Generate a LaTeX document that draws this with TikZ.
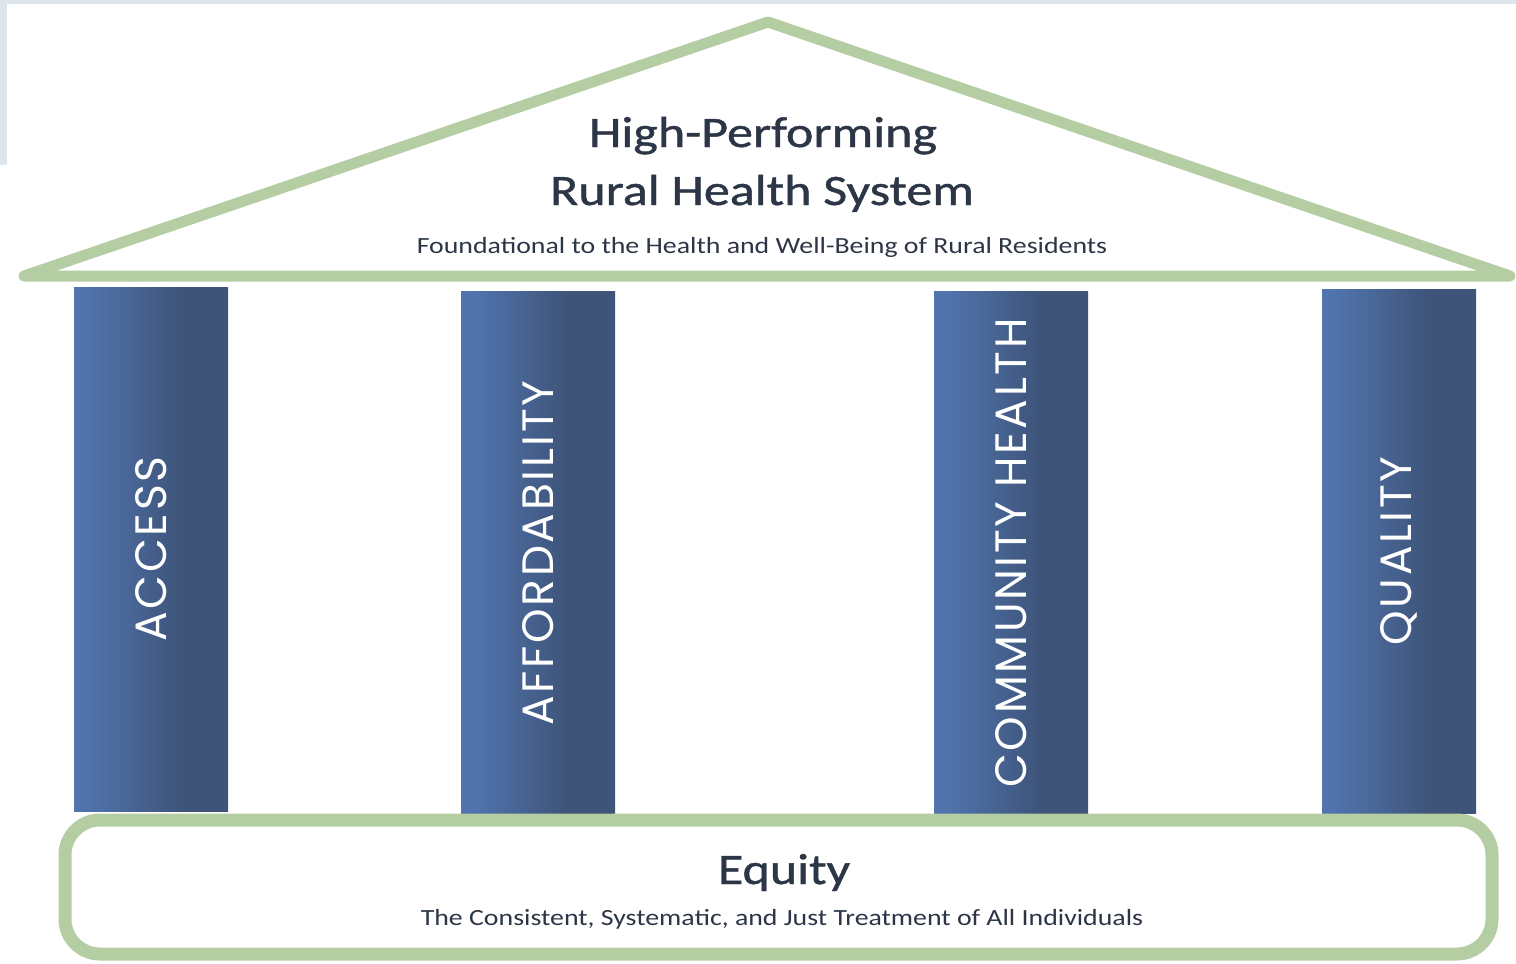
\documentclass[tikz,border=0pt]{standalone}
\usepackage{fontspec}
\setmainfont{Carlito}[FakeStretch=1.2]
\newfontfamily\headfont{Carlito}[FakeStretch=1.2, FakeBold=1]
\newfontfamily\pillarfont{Poppins}[LetterSpace=6]
\usepackage{xcolor}
\usepackage{tikz}
\usetikzlibrary{positioning,calc}

\definecolor{roofgreen}{HTML}{B5CDA3}
\definecolor{inktext}{HTML}{2C3646}
\definecolor{stripgrey}{HTML}{DEE5EA}
\definecolor{pillarlight}{HTML}{7AA0DA}
\definecolor{pillarmid}{HTML}{5073AC}
\definecolor{pillardark}{HTML}{3E5479}
\pgfdeclarehorizontalshading{pillarshade}{100bp}{color(0bp)=(pillarlight); color(8bp)=(pillarmid!85!pillarlight); color(30bp)=(pillarmid); color(60bp)=(pillardark); color(100bp)=(pillardark)}

\begin{document}
\begin{tikzpicture}[
    roof/.style={draw=roofgreen, line width=0.11cm, line join=round},
    pillar/.style={rectangle, shading=pillarshade, inner sep=0pt, minimum width=1.54cm, minimum height=5.24cm, text=white, font=\pillarfont\fontsize{12.5}{14}\selectfont},
    heading/.style={anchor=base, text=inktext, inner sep=0pt, font=\headfont\fontsize{12.35}{14}\selectfont},
    caption/.style={anchor=base, text=inktext, inner sep=0pt, font=\fontsize{6.6}{8}\selectfont}
]
\useasboundingbox (0,0) rectangle (15.16,9.63);

% Grey edge
\fill[stripgrey] (0,9.59) rectangle (15.16,9.63);
\fill[stripgrey] (0,7.98) rectangle (0.07,9.63);

% Roof
\draw[roof] (0.24,6.87) -- (7.68,9.41) -- (15.10,6.87) -- cycle;
\node[heading] (title) at (7.63,8.16) {High-Performing};
\node[heading] (system) at (7.62,7.58) {Rural Health System};
\node[caption] (found) at (7.62,7.10) {Foundational to the Health and Well-Being of Rural Residents};

% Pillars
\node[pillar] (access) at (1.51,4.14) {\rotatebox{90}{ACCESS}};
\node[pillar] (afford) at (5.38,4.10) {\rotatebox{90}{AFFORDABILITY}};
\node[pillar] (community) at (10.11,4.10) {\rotatebox{90}{COMMUNITY HEALTH}};
\node[pillar] (quality) at (13.99,4.12) {\rotatebox{90}{QUALITY}};

% Base
\draw[roof, line width=0.13cm, rounded corners=0.35cm, fill=white] (0.65,0.09) rectangle (14.92,1.43);
\node[heading] (equity) at (7.84,0.79) {Equity};
\node[caption] (just) at (7.82,0.38) {The Consistent, Systematic, and Just Treatment of All Individuals};

\end{tikzpicture}
\end{document}
